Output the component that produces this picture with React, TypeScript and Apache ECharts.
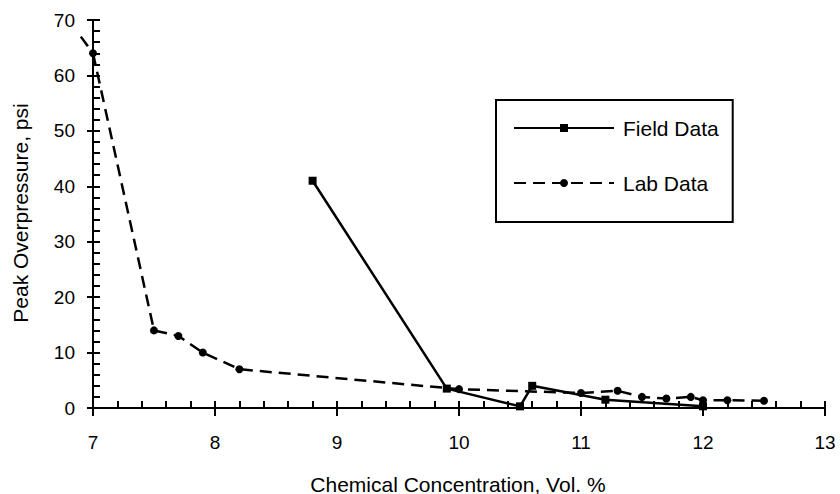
import React, { useEffect, useRef } from "react";
import * as echarts from "echarts";

// Field measurements: concentration (vol. %) and peak overpressure (psi)
const fieldConc = [8.8, 9.9, 10.5, 10.6, 11.2, 12.0];
const fieldPressure = [41, 3.5, 0.3, 4.0, 1.5, 0.3];

// Laboratory measurements (first point lies just left of the plotted range)
const labConc = [6.9, 7.0, 7.5, 7.7, 7.9, 8.2, 10.0, 11.0, 11.3, 11.5, 11.7, 11.9, 12.0, 12.2, 12.5];
const labPressure = [67, 64, 14, 13, 10, 7, 3.4, 2.7, 3.1, 2.0, 1.7, 2.0, 1.4, 1.4, 1.3];

const xRange = { min: 7, max: 13, interval: 1 };
const yRange = { min: 0, max: 70, interval: 10 };

const FONT = "'Liberation Sans', Arial, Helvetica, sans-serif";
const INK = "#000";
const LAB_DASH = [12, 7];

export default function App() {
  const ref = useRef<HTMLDivElement>(null);

  useEffect(() => {
    if (!ref.current) return;
    const chart = echarts.init(ref.current, undefined, { renderer: "svg" });

    const tickLine = { color: INK, width: 2 };
    const labelStyle = { color: INK, fontSize: 19, fontFamily: FONT };

    const fieldData = fieldConc.map((x, i) => [x, fieldPressure[i]]);
    // points inside the axis range go to the line series
    const labData = labConc
      .map((x, i) => [x, labPressure[i]])
      .filter(([x]) => x >= xRange.min);
    // the segment that runs in from left of the y axis, drawn unclipped
    const labLeadIn = [[labConc[0], labPressure[0], labConc[1], labPressure[1]]];

    chart.setOption({
      animation: false,
      backgroundColor: "#fff",
      grid: { left: 93, top: 20, right: 15, bottom: 86 },
      xAxis: [
        {
          type: "value",
          ...xRange,
          position: "bottom",
          axisLine: { lineStyle: tickLine },
          axisTick: { inside: false, length: 8, lineStyle: tickLine },
          axisLabel: { ...labelStyle, margin: 25 },
          splitLine: { show: false },
        },
        {
          type: "value",
          ...xRange,
          position: "bottom",
          axisLine: { show: false },
          axisTick: { inside: true, length: 7, lineStyle: tickLine },
          minorTick: { show: true, splitNumber: 5, length: 7, lineStyle: tickLine },
          axisLabel: { show: false },
          splitLine: { show: false },
        },
      ],
      yAxis: [
        {
          type: "value",
          ...yRange,
          position: "left",
          axisLine: { show: true, lineStyle: tickLine },
          axisTick: { show: true, inside: false, length: 6, lineStyle: tickLine },
          axisLabel: { ...labelStyle, margin: 18 },
          splitLine: { show: false },
        },
        {
          type: "value",
          ...yRange,
          position: "left",
          axisLine: { show: false },
          axisTick: { show: true, inside: true, length: 7, lineStyle: tickLine },
          minorTick: { show: true, splitNumber: 5, length: 7, lineStyle: tickLine },
          axisLabel: { show: false },
          splitLine: { show: false },
        },
      ],
      legend: {
        orient: "vertical",
        left: 496,
        top: 100,
        borderColor: INK,
        borderWidth: 2,
        padding: [16, 14, 27, 17],
        itemWidth: 100,
        itemHeight: 10,
        itemGap: 31,
        textStyle: {
          color: INK,
          fontSize: 21,
          fontFamily: FONT,
          lineHeight: 24,
          padding: [0, 0, 0, 4],
        },
        data: ["Field Data", "Lab Data"],
      },
      graphic: [
        {
          type: "text",
          x: 20,
          y: 213,
          rotation: Math.PI / 2,
          style: {
            text: "Peak Overpressure, psi",
            fill: INK,
            fontSize: 21,
            fontFamily: FONT,
            align: "center",
            verticalAlign: "middle",
          },
        },
        {
          type: "text",
          x: 458,
          y: 484,
          style: {
            text: "Chemical Concentration, Vol. %",
            fill: INK,
            fontSize: 21,
            fontFamily: FONT,
            align: "center",
            verticalAlign: "middle",
          },
        },
      ],
      series: [
        {
          name: "Field Data",
          type: "line",
          xAxisIndex: 0,
          yAxisIndex: 0,
          data: fieldData,
          symbol: "rect",
          symbolSize: 8,
          lineStyle: { color: INK, width: 2.5, type: "solid" },
          itemStyle: { color: INK },
          z: 3,
        },
        {
          name: "Lab Data",
          type: "line",
          xAxisIndex: 0,
          yAxisIndex: 0,
          data: labData,
          symbol: "circle",
          symbolSize: 8,
          lineStyle: { color: INK, width: 2.5, type: LAB_DASH },
          itemStyle: { color: INK },
          z: 2,
        },
        {
          type: "custom",
          xAxisIndex: 0,
          yAxisIndex: 0,
          clip: false,
          silent: true,
          data: labLeadIn,
          encode: { x: [0, 2], y: [1, 3] },
          renderItem: (_params: any, api: any) => {
            const a = api.coord([api.value(0), api.value(1)]);
            const b = api.coord([api.value(2), api.value(3)]);
            return {
              type: "line",
              shape: { x1: a[0], y1: a[1], x2: b[0], y2: b[1] },
              style: { stroke: INK, lineWidth: 2.5, lineDash: LAB_DASH, fill: null },
            };
          },
          z: 2,
        },
      ],
    });

    return () => chart.dispose();
  }, []);

  return (
    <div
      ref={ref}
      style={{ position: "fixed", left: 0, top: 0, width: 840, height: 494 }}
    />
  );
}
